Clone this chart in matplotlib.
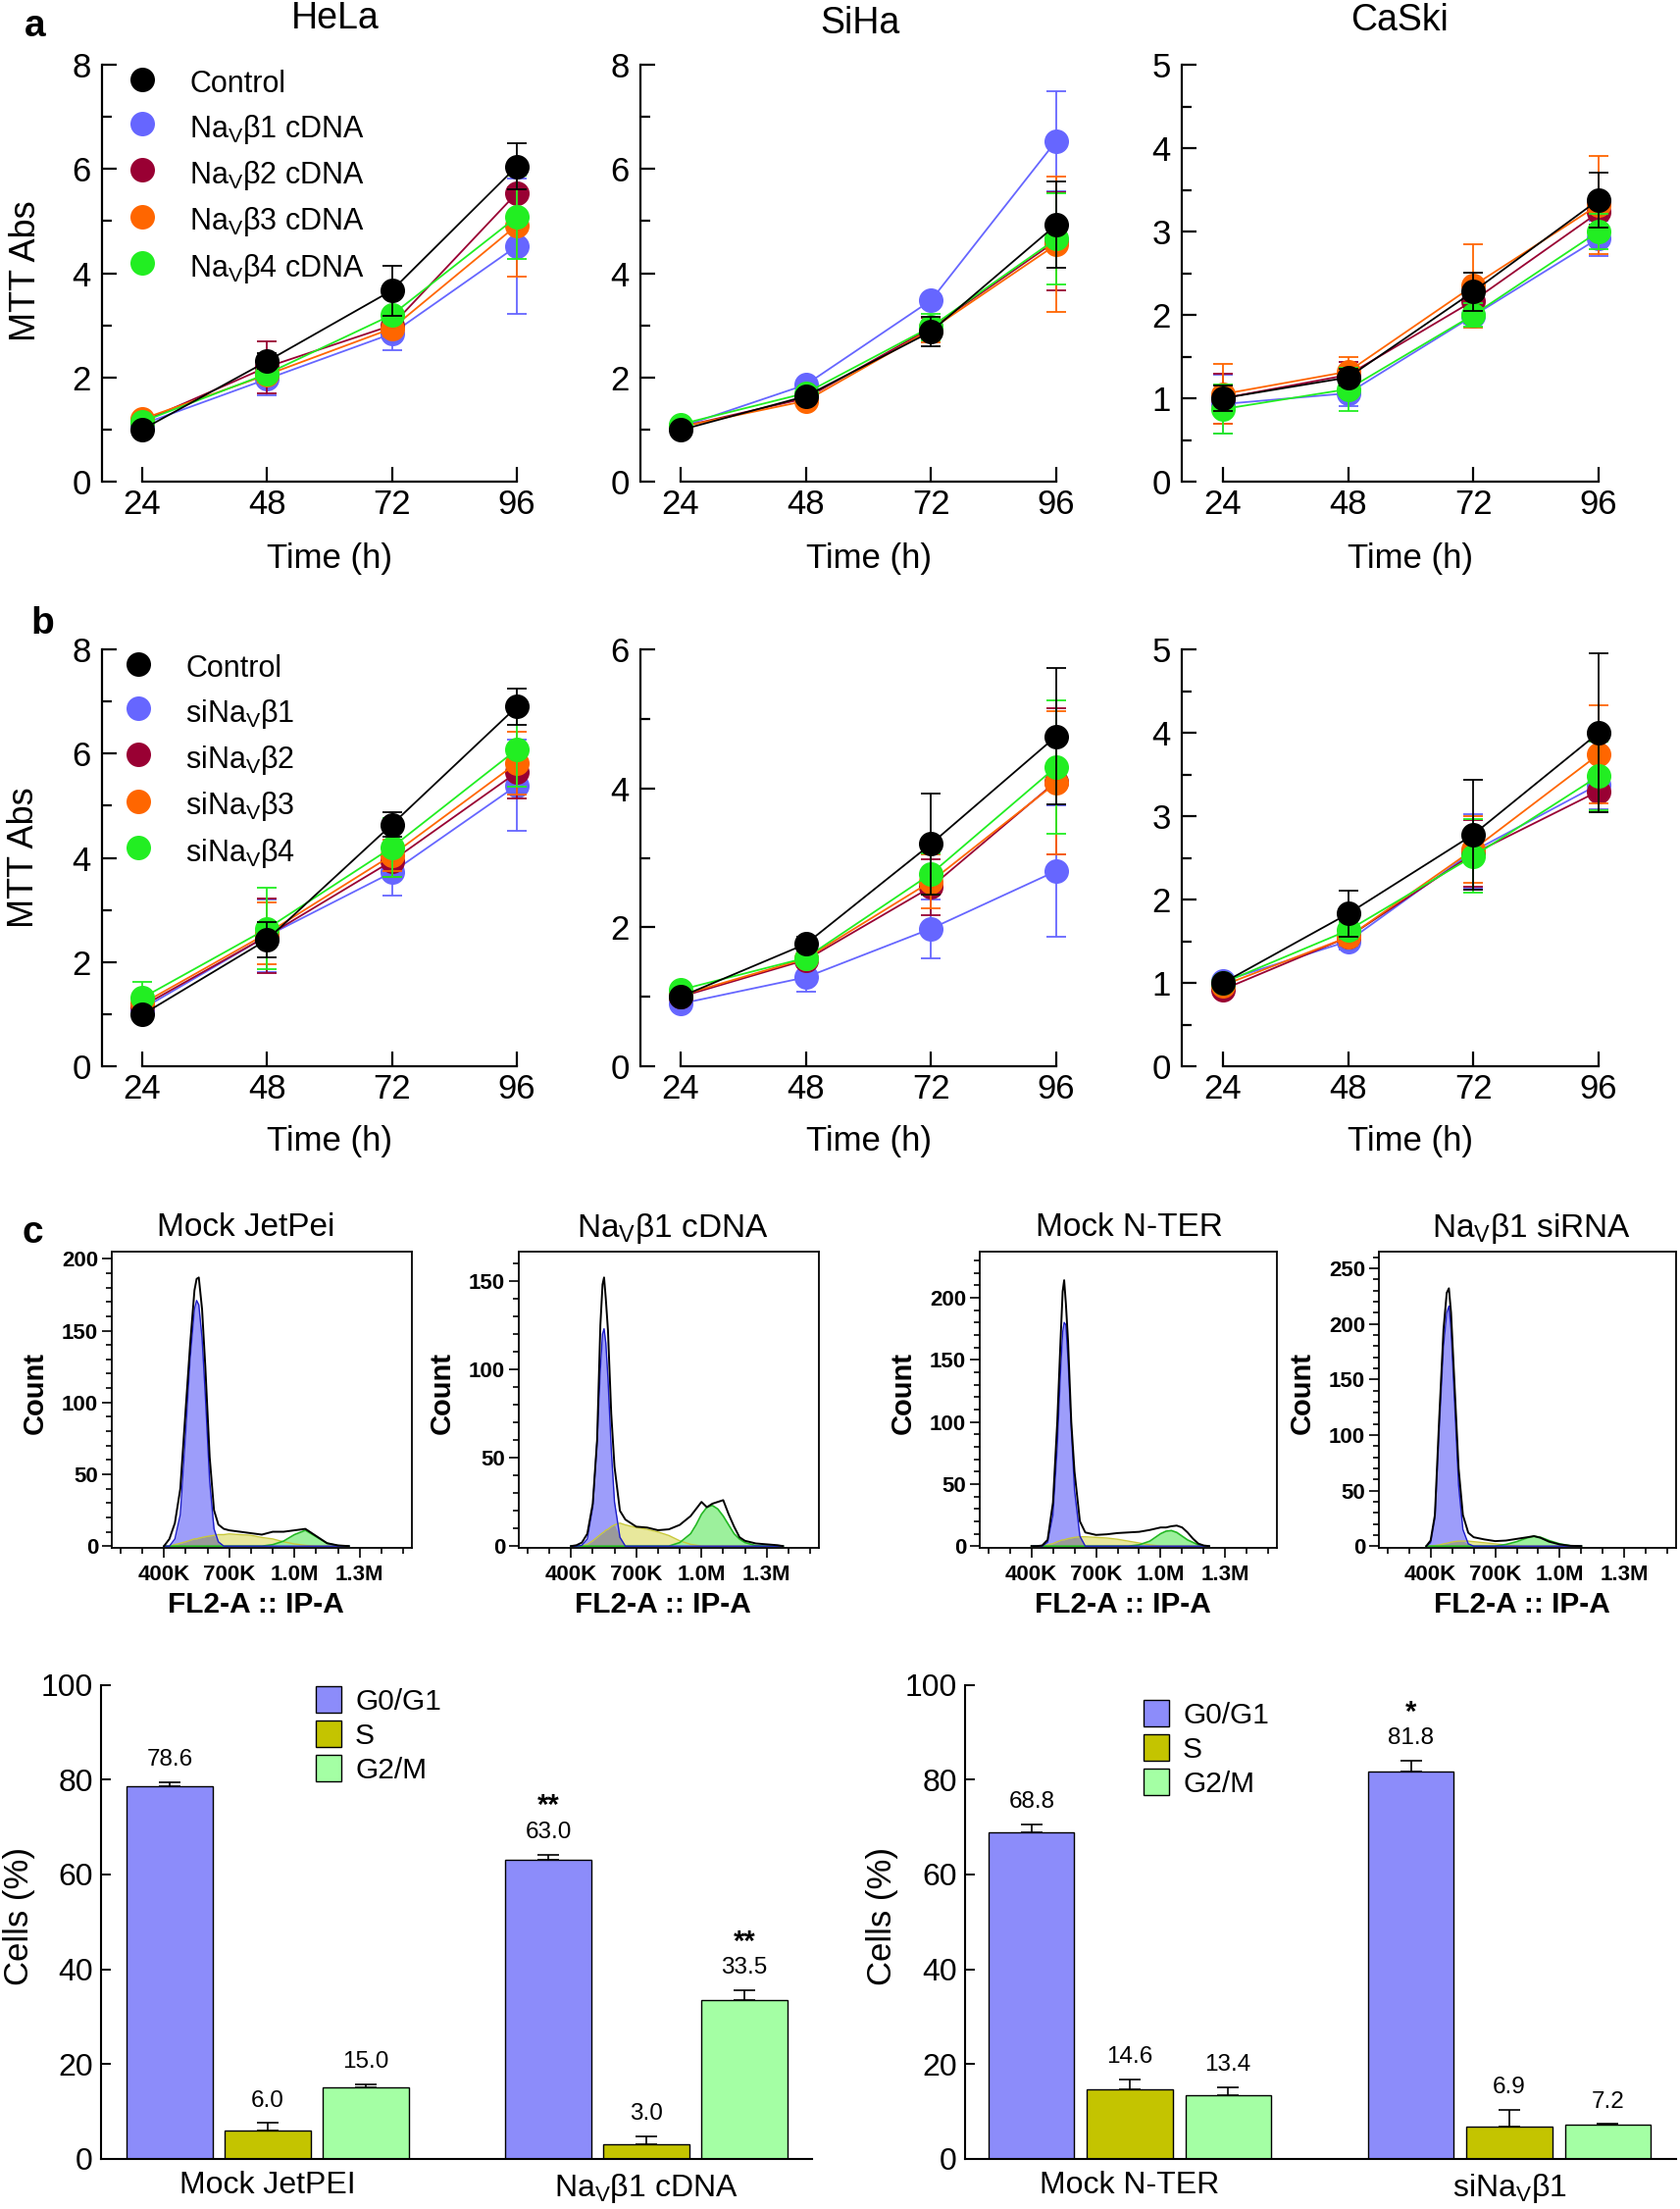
import numpy as np
import matplotlib
matplotlib.use('Agg')
import matplotlib.pyplot as plt
from matplotlib.lines import Line2D
from matplotlib.ticker import MultipleLocator

plt.rcParams['font.family'] = ['Liberation Sans', 'DejaVu Sans']
plt.rcParams['mathtext.fontset'] = 'custom'
plt.rcParams['mathtext.rm'] = 'Liberation Sans'
plt.rcParams['mathtext.it'] = 'Liberation Sans:italic'
plt.rcParams['mathtext.bf'] = 'Liberation Sans:bold'

W, H = 1713, 2252

# ---------------- growth curves (MTT) ----------------
HOURS = [24, 48, 72, 96]
LABELS_CDNA = ['Control', r'Na$_\mathrm{V}$β1 cDNA', r'Na$_\mathrm{V}$β2 cDNA',
               r'Na$_\mathrm{V}$β3 cDNA', r'Na$_\mathrm{V}$β4 cDNA']
LABELS_SI = ['Control', r'siNa$_\mathrm{V}$β1', r'siNa$_\mathrm{V}$β2',
             r'siNa$_\mathrm{V}$β3', r'siNa$_\mathrm{V}$β4']
SERIES_COLORS = ['black', '#6666ff', '#990033', '#ff6600', '#22ee22']

# order of rows: Control, b1, b2, b3, b4
HELA_CDNA = [[1.0, 2.31, 3.67, 6.05], [1.1, 1.97, 2.84, 4.52], [1.15, 2.2, 3.0, 5.54],
             [1.2, 2.05, 2.94, 4.92], [1.15, 2.07, 3.2, 5.08]]
HELA_CDNA_ERR = [[0.05, 0.15, 0.48, 0.44], [0.05, 0.31, 0.31, 1.3], [0.05, 0.5, 0.2, 0.1],
                 [0.05, 0.15, 0.15, 0.99], [0.05, 0.1, 0.1, 0.8]]
SIHA_CDNA = [[0.99, 1.64, 2.88, 4.93], [1.05, 1.86, 3.48, 6.54], [1.05, 1.6, 2.95, 4.62],
             [1.05, 1.55, 2.92, 4.55], [1.1, 1.7, 2.97, 4.66]]
SIHA_CDNA_ERR = [[0.05, 0.08, 0.29, 0.83], [0.05, 0.08, 0.1, 0.96], [0.05, 0.08, 0.2, 0.94],
                 [0.05, 0.08, 0.25, 1.3], [0.05, 0.08, 0.25, 0.87]]
CASKI_CDNA = [[1.0, 1.25, 2.28, 3.38], [0.93, 1.06, 1.99, 2.92], [1.0, 1.28, 2.17, 3.23],
              [1.05, 1.32, 2.35, 3.32], [0.87, 1.11, 2.0, 3.0]]
CASKI_CDNA_ERR = [[0.15, 0.1, 0.23, 0.33], [0.35, 0.15, 0.1, 0.21], [0.3, 0.15, 0.15, 0.15],
                  [0.36, 0.18, 0.5, 0.59], [0.29, 0.26, 0.14, 0.21]]

HELA_SI = [[0.99, 2.43, 4.64, 6.9], [1.1, 2.5, 3.72, 5.39], [1.15, 2.5, 3.94, 5.64],
           [1.2, 2.55, 4.05, 5.82], [1.31, 2.64, 4.2, 6.08]]
HELA_SI_ERR = [[0.05, 0.34, 0.24, 0.35], [0.1, 0.7, 0.44, 0.87], [0.1, 0.72, 0.3, 0.5],
               [0.1, 0.6, 0.3, 0.6], [0.3, 0.78, 0.56, 0.72]]
SIHA_SI = [[1.0, 1.76, 3.2, 4.75], [0.9, 1.28, 1.98, 2.81], [1.0, 1.53, 2.58, 4.1],
           [1.02, 1.55, 2.66, 4.08], [1.1, 1.56, 2.77, 4.31]]
SIHA_SI_ERR = [[0.05, 0.1, 0.73, 0.98], [0.05, 0.2, 0.42, 0.95], [0.05, 0.1, 0.4, 1.05],
               [0.05, 0.1, 0.39, 1.03], [0.05, 0.1, 0.3, 0.96]]
CASKI_SI = [[1.0, 1.83, 2.78, 4.0], [1.02, 1.5, 2.58, 3.38], [0.92, 1.55, 2.55, 3.3],
            [0.97, 1.55, 2.6, 3.74], [1.0, 1.63, 2.52, 3.48]]
CASKI_SI_ERR = [[0.05, 0.28, 0.66, 0.95], [0.05, 0.1, 0.44, 0.3], [0.05, 0.1, 0.4, 0.25],
                [0.05, 0.1, 0.4, 0.59], [0.05, 0.1, 0.44, 0.41]]

# ---------------- cell cycle histograms (x in thousands) ----------------
HIST_XTICKS = [400, 700, 1000, 1300]
HIST_XTICK_LABELS = ['400K', '700K', '1.0M', '1.3M']

JET_X = [400, 425, 450, 475, 500, 520, 540, 550, 560, 575, 590, 610, 630, 650, 675, 700, 750, 800,
         850, 900, 950, 1000, 1050, 1100, 1150, 1200, 1250]
JET_TOTAL = [0, 5, 16, 40, 96, 140, 178, 186, 187, 165, 125, 62, 25, 15, 12, 11, 10, 9,
             8, 10, 10, 11, 12, 7, 2, 0.5, 0]
JET_G1 = [0, 0, 5, 22, 80, 130, 165, 171, 168, 145, 105, 45, 12, 3, 0, 0, 0, 0,
          0, 0, 0, 0, 0, 0, 0, 0, 0]
JET_S = [0, 0, 1, 2, 3, 4, 5, 5, 5.5, 6, 6.5, 7, 7.5, 8, 8, 8.5, 8, 7.5,
         6, 5, 3, 1.5, 0.5, 0, 0, 0, 0]
JET_G2 = [0, 0, 0, 0, 0, 0, 0, 0, 0, 0, 0, 0, 0, 0, 0, 0, 0, 0,
          0, 1, 3.5, 8, 11, 6.5, 2, 0.3, 0]

CDNA_X = [400, 425, 450, 475, 500, 520, 535, 545, 552, 560, 570, 585, 600, 625, 650, 700, 750, 800,
          850, 900, 950, 975, 1000, 1025, 1050, 1075, 1100, 1125, 1150, 1175, 1200, 1250, 1300, 1350, 1375]
CDNA_TOTAL = [0, 0.5, 2, 7, 24, 60, 125, 148, 152, 140, 122, 75, 45, 20, 15, 11, 10.5, 9,
              9.5, 12, 17, 21, 25, 22, 24, 25, 26, 18, 11, 5, 3, 1.5, 1, 0.5, 0]
CDNA_G1 = [0, 0, 0.5, 4, 22, 60, 100, 120, 123, 115, 95, 55, 25, 5, 0, 0, 0, 0,
           0, 0, 0, 0, 0, 0, 0, 0, 0, 0, 0, 0, 0, 0, 0, 0, 0]
CDNA_S = [0, 0, 0, 1, 3, 5, 6.5, 7.5, 8, 9, 9.5, 11, 12, 13, 12, 10.5, 9.5, 8,
          6, 3, 1, 0.5, 0, 0, 0, 0, 0, 0, 0, 0, 0, 0, 0, 0, 0]
CDNA_G2 = [0, 0, 0, 0, 0, 0, 0, 0, 0, 0, 0, 0, 0, 0, 0, 0, 0, 0,
           0, 2, 7, 12, 18, 22, 23, 21, 17, 12, 7, 4, 2, 0.3, 0, 0, 0]

NTER_X = [400, 425, 450, 475, 500, 520, 535, 545, 552, 560, 570, 585, 600, 625, 650, 700, 750, 800,
          850, 900, 950, 1000, 1025, 1050, 1075, 1100, 1125, 1150, 1175, 1200, 1225]
NTER_TOTAL = [0, 0, 0.5, 5, 35, 100, 165, 205, 214, 195, 165, 100, 60, 20, 11, 9, 9.5, 10.5,
              11, 11.5, 13, 15, 15, 16, 16.5, 15, 11, 6, 2, 0.5, 0]
NTER_G1 = [0, 0, 0, 3, 25, 80, 140, 172, 180, 178, 150, 95, 45, 8, 0, 0, 0, 0,
           0, 0, 0, 0, 0, 0, 0, 0, 0, 0, 0, 0, 0]
NTER_S = [0, 0, 0, 1, 2, 3.5, 4.5, 5, 5, 5.5, 6, 6.5, 7, 7.5, 7.5, 7, 6.5, 5.5,
          4, 2.5, 1, 0, 0, 0, 0, 0, 0, 0, 0, 0, 0]
NTER_G2 = [0, 0, 0, 0, 0, 0, 0, 0, 0, 0, 0, 0, 0, 0, 0, 0, 0, 0,
           0, 1, 4, 10, 12, 12.5, 11, 8, 5, 3, 1, 0.3, 0]

SIRNA_X = [380, 400, 420, 440, 460, 475, 485, 495, 510, 530, 550, 575, 600, 650, 700, 750, 800, 850,
           880, 910, 950, 1000, 1050, 1100]
SIRNA_TOTAL = [0, 5, 28, 115, 195, 228, 232, 210, 150, 70, 28, 12, 8, 6, 4.5, 5, 6.5, 8,
               9, 7.5, 4, 1.5, 0.3, 0]
SIRNA_G1 = [0, 3, 25, 105, 180, 210, 216, 195, 135, 55, 15, 2, 0, 0, 0, 0, 0, 0,
            0, 0, 0, 0, 0, 0]
SIRNA_S = [0, 0, 0.5, 1, 2, 2.5, 3, 3.5, 4, 4.5, 4.5, 4.5, 4, 3, 2, 1, 0.3, 0,
           0, 0, 0, 0, 0, 0]
SIRNA_G2 = [0, 0, 0, 0, 0, 0, 0, 0, 0, 0, 0, 0, 0, 0, 0, 1.5, 4, 7.5,
            8.8, 8, 5, 2, 0.3, 0]

# ---------------- cell cycle bars ----------------
PHASES = ['G0/G1', 'S', 'G2/M']
PHASE_COLORS = ['#8c8cfa', '#c4c400', '#a4ffa4']

CDNA_GROUPS = ['Mock JetPEI', r'Na$_\mathrm{V}$β1 cDNA']
CDNA_PCT = [[78.6, 63.0], [6.0, 3.0], [15.0, 33.5]]
CDNA_PCT_ERR = [[0.9, 1.2], [1.6, 1.8], [0.8, 2.1]]
CDNA_STARS = [['', '**'], ['', ''], ['', '**']]

SI_GROUPS = ['Mock N-TER', r'siNa$_\mathrm{V}$β1']
SI_PCT = [[68.8, 81.8], [14.6, 6.9], [13.4, 7.2]]
SI_PCT_ERR = [[1.8, 2.2], [2.2, 3.4], [1.7, 0.2]]
SI_STARS = [['', '*'], ['', ''], ['', '']]


fig = plt.figure(figsize=(W / 100, H / 100), dpi=100)


def rect(x0, x1, ytop, ybot):
    # pixel box (origin top-left) -> figure fraction
    return [x0 / W, 1 - ybot / H, (x1 - x0) / W, (ybot - ytop) / H]


def fpt(x, y):
    return (x / W, 1 - y / H)


def ftext(x, y, s, **kw):
    kw.setdefault('ha', 'center')
    kw.setdefault('va', 'center')
    return fig.text(x / W, 1 - y / H, s, **kw)


def growth_panel(spine_x, x24, x96, ytop, ybot, ymax, major, minor, means, errs):
    scale = (x96 - x24) / 72.0
    ax = fig.add_axes(rect(spine_x, x96 + 24, ytop, ybot))
    ax.set_xlim(24 - (x24 - spine_x) / scale, 96 + 24 / scale)
    ax.set_ylim(0, ymax)
    for z, i in enumerate([1, 2, 3, 4, 0]):
        eb = ax.errorbar(HOURS, means[i], yerr=errs[i], color=SERIES_COLORS[i], marker='o',
                         ms=17, lw=1.3, elinewidth=1.3, capsize=7, capthick=1.3,
                         zorder=3 + z)
        for art in eb.get_children():
            art.set_clip_on(False)
    for side in ['top', 'right']:
        ax.spines[side].set_visible(False)
    for side in ['left', 'bottom']:
        ax.spines[side].set_linewidth(1.6)
    ax.spines['bottom'].set_bounds(24, 96)
    ax.set_xticks(HOURS)
    ax.yaxis.set_major_locator(MultipleLocator(major))
    ax.yaxis.set_minor_locator(MultipleLocator(minor))
    ax.tick_params(which='both', direction='in', width=1.6, labelsize=25)
    ax.tick_params(which='major', length=11)
    ax.tick_params(which='minor', length=7)
    ax.tick_params(axis='x', pad=5)
    ax.tick_params(axis='y', pad=8)
    return ax


def series_legend(labels, x_marker, y_first):
    handles = [Line2D([], [], ls='none', marker='o', ms=18, mew=0, color=c) for c in SERIES_COLORS]
    fs = 22 * 100 / 72.0
    fig.legend(handles, labels, loc='upper left',
               bbox_to_anchor=fpt(x_marker - fs / 2, y_first - 0.7 * fs + 6),
               bbox_transform=fig.transFigure, frameon=False, fontsize=22, handlelength=1.0,
               handletextpad=1.08, handleheight=1.4, labelspacing=0.34, borderpad=0, borderaxespad=0)


# ---- row a ----
ROW_A = (66, 491)
growth_panel(104, 145, 527, *ROW_A, 8, 2, 1, HELA_CDNA, HELA_CDNA_ERR)
growth_panel(653, 694, 1077, *ROW_A, 8, 2, 1, SIHA_CDNA, SIHA_CDNA_ERR)
growth_panel(1205, 1247, 1630, *ROW_A, 5, 1, 0.5, CASKI_CDNA, CASKI_CDNA_ERR)
series_legend(LABELS_CDNA, 145, 82)
ftext(342, 19, 'HeLa', fontsize=27)
ftext(877, 24, 'SiHa', fontsize=27)
ftext(1427, 21, 'CaSki', fontsize=27)
ftext(36, 27, 'a', fontsize=28, fontweight='bold')
ftext(27, 276, 'MTT Abs', fontsize=26, rotation=90)
for xc in [336, 886, 1438]:
    ftext(xc, 570, 'Time (h)', fontsize=25)

# ---- row b ----
ROW_B = (662, 1087)
growth_panel(104, 145, 527, *ROW_B, 8, 2, 1, HELA_SI, HELA_SI_ERR)
growth_panel(653, 694, 1077, *ROW_B, 6, 2, 1, SIHA_SI, SIHA_SI_ERR)
growth_panel(1205, 1247, 1630, *ROW_B, 5, 1, 0.5, CASKI_SI, CASKI_SI_ERR)
series_legend(LABELS_SI, 141, 678)
ftext(43, 636, 'b', fontsize=28, fontweight='bold')
ftext(25, 874, 'MTT Abs', fontsize=26, rotation=90)
for xc in [336, 886, 1438]:
    ftext(xc, 1164, 'Time (h)', fontsize=25)


# ---- row c: histograms ----
def cycle_hist(x0, x1, ymax, title, title_x, xs, total, g1, s, g2):
    ax = fig.add_axes(rect(x0, x1, 1276, 1578))
    ax.set_xlim(160, 1540)
    ax.set_ylim(-0.006 * ymax, ymax)
    xs = np.array(xs, dtype=float)
    g1 = np.array(g1, dtype=float)
    s = np.array(s, dtype=float)
    ax.fill_between(xs, s, color='#e8e89c', lw=0)
    ax.plot(xs, s, color='#c8c83c', lw=1)
    ax.fill_between(xs, g2, color='#9cf09c', lw=0)
    ax.plot(xs, g2, color='#22b822', lw=1.2)
    ax.fill_between(xs, g1, color='#9d9dfa', lw=0)
    ax.plot(xs, g1, color='#1c1cc8', lw=1)
    ax.fill_between(xs, np.minimum(g1, s), color='#9a9a9a', lw=0)
    ax.plot(xs, total, color='black', lw=1.4)
    for sp in ax.spines.values():
        sp.set_linewidth(1.3)
    ax.set_xticks(HIST_XTICKS)
    ax.set_xticklabels(HIST_XTICK_LABELS)
    ax.xaxis.set_minor_locator(MultipleLocator(100))
    ax.yaxis.set_major_locator(MultipleLocator(50))
    ax.yaxis.set_minor_locator(MultipleLocator(10))
    ax.tick_params(which='both', direction='out', width=1.2, labelsize=16)
    ax.tick_params(which='major', length=7)
    ax.tick_params(which='minor', length=4)
    ax.tick_params(axis='x', pad=5)
    ax.tick_params(axis='y', pad=3)
    for lab in ax.get_xticklabels() + ax.get_yticklabels():
        lab.set_fontweight('bold')
    ftext(title_x, 1252, title, fontsize=24)
    ftext(x0 - 78, 1420, 'Count', fontsize=21, fontweight='bold', rotation=90)
    ftext((x0 + x1) / 2 - 6, 1636, 'FL2-A :: IP-A', fontsize=21.5, fontweight='bold')
    return ax


cycle_hist(114, 420, 205, 'Mock JetPei', 251, JET_X, JET_TOTAL, JET_G1, JET_S, JET_G2)
cycle_hist(529, 835, 166.6, r'Na$_\mathrm{V}$β1 cDNA', 686, CDNA_X, CDNA_TOTAL, CDNA_G1, CDNA_S, CDNA_G2)
cycle_hist(999, 1302, 237, 'Mock N-TER', 1151, NTER_X, NTER_TOTAL, NTER_G1, NTER_S, NTER_G2)
cycle_hist(1406, 1709, 265, r'Na$_\mathrm{V}$β1 siRNA', 1562, SIRNA_X, SIRNA_TOTAL, SIRNA_G1, SIRNA_S, SIRNA_G2)
ftext(33, 1257, 'c', fontsize=28, fontweight='bold')


# ---- row c: bar charts ----
def cycle_bars(axis_x, right_x, c0, c1, groups, pct, err, stars, leg_x, leg_y):
    sp = float(c1 - c0)
    ax = fig.add_axes(rect(axis_x, right_x, 1717.6, 2201))
    ax.set_xlim((axis_x - c0) / sp, (right_x - c0) / sp)
    ax.set_ylim(0, 100)
    pos = np.arange(len(groups))
    for k in range(3):
        xs = pos + (k - 1) * 0.259
        ax.bar(xs, pct[k], width=0.226, color=PHASE_COLORS[k], edgecolor='black', lw=1,
               label=PHASES[k], zorder=2)
        ax.errorbar(xs, pct[k], yerr=[np.zeros(len(xs)), err[k]], fmt='none', ecolor='black',
                    elinewidth=1.2, capsize=8, capthick=1.2, zorder=3)
        for x, v, e, st in zip(xs, pct[k], err[k], stars[k]):
            ax.text(x, v + e + 4.7, f'{v:.1f}', ha='center', va='center', fontsize=17.5)
            if st:
                ax.text(x, v + e + 10.2, st, ha='center', va='center', fontsize=21, fontweight='bold')
    for side in ['top', 'right']:
        ax.spines[side].set_visible(False)
    for side in ['left', 'bottom']:
        ax.spines[side].set_linewidth(1.5)
    ax.yaxis.set_major_locator(MultipleLocator(20))
    ax.set_xticks(pos)
    ax.set_xticklabels(groups)
    ax.tick_params(axis='y', direction='in', length=7, width=1.4, labelsize=23, pad=6)
    ax.tick_params(axis='x', length=0, labelsize=23, pad=9)
    ax.legend(loc='upper left', bbox_to_anchor=fpt(leg_x, leg_y), bbox_transform=fig.transFigure,
              frameon=False, fontsize=21.5, handlelength=0.87, handleheight=1.0, handletextpad=0.47,
              labelspacing=0.18, borderpad=0, borderaxespad=0)
    ftext(axis_x - 84, 1954, 'Cells (%)', fontsize=25, rotation=90)
    return ax


cycle_bars(103, 828, 273, 659, CDNA_GROUPS, CDNA_PCT, CDNA_PCT_ERR, CDNA_STARS, 322, 1719)
cycle_bars(984, 1709, 1152, 1539, SI_GROUPS, SI_PCT, SI_PCT_ERR, SI_STARS, 1166, 1733)

fig.savefig('out.png', dpi=100)
